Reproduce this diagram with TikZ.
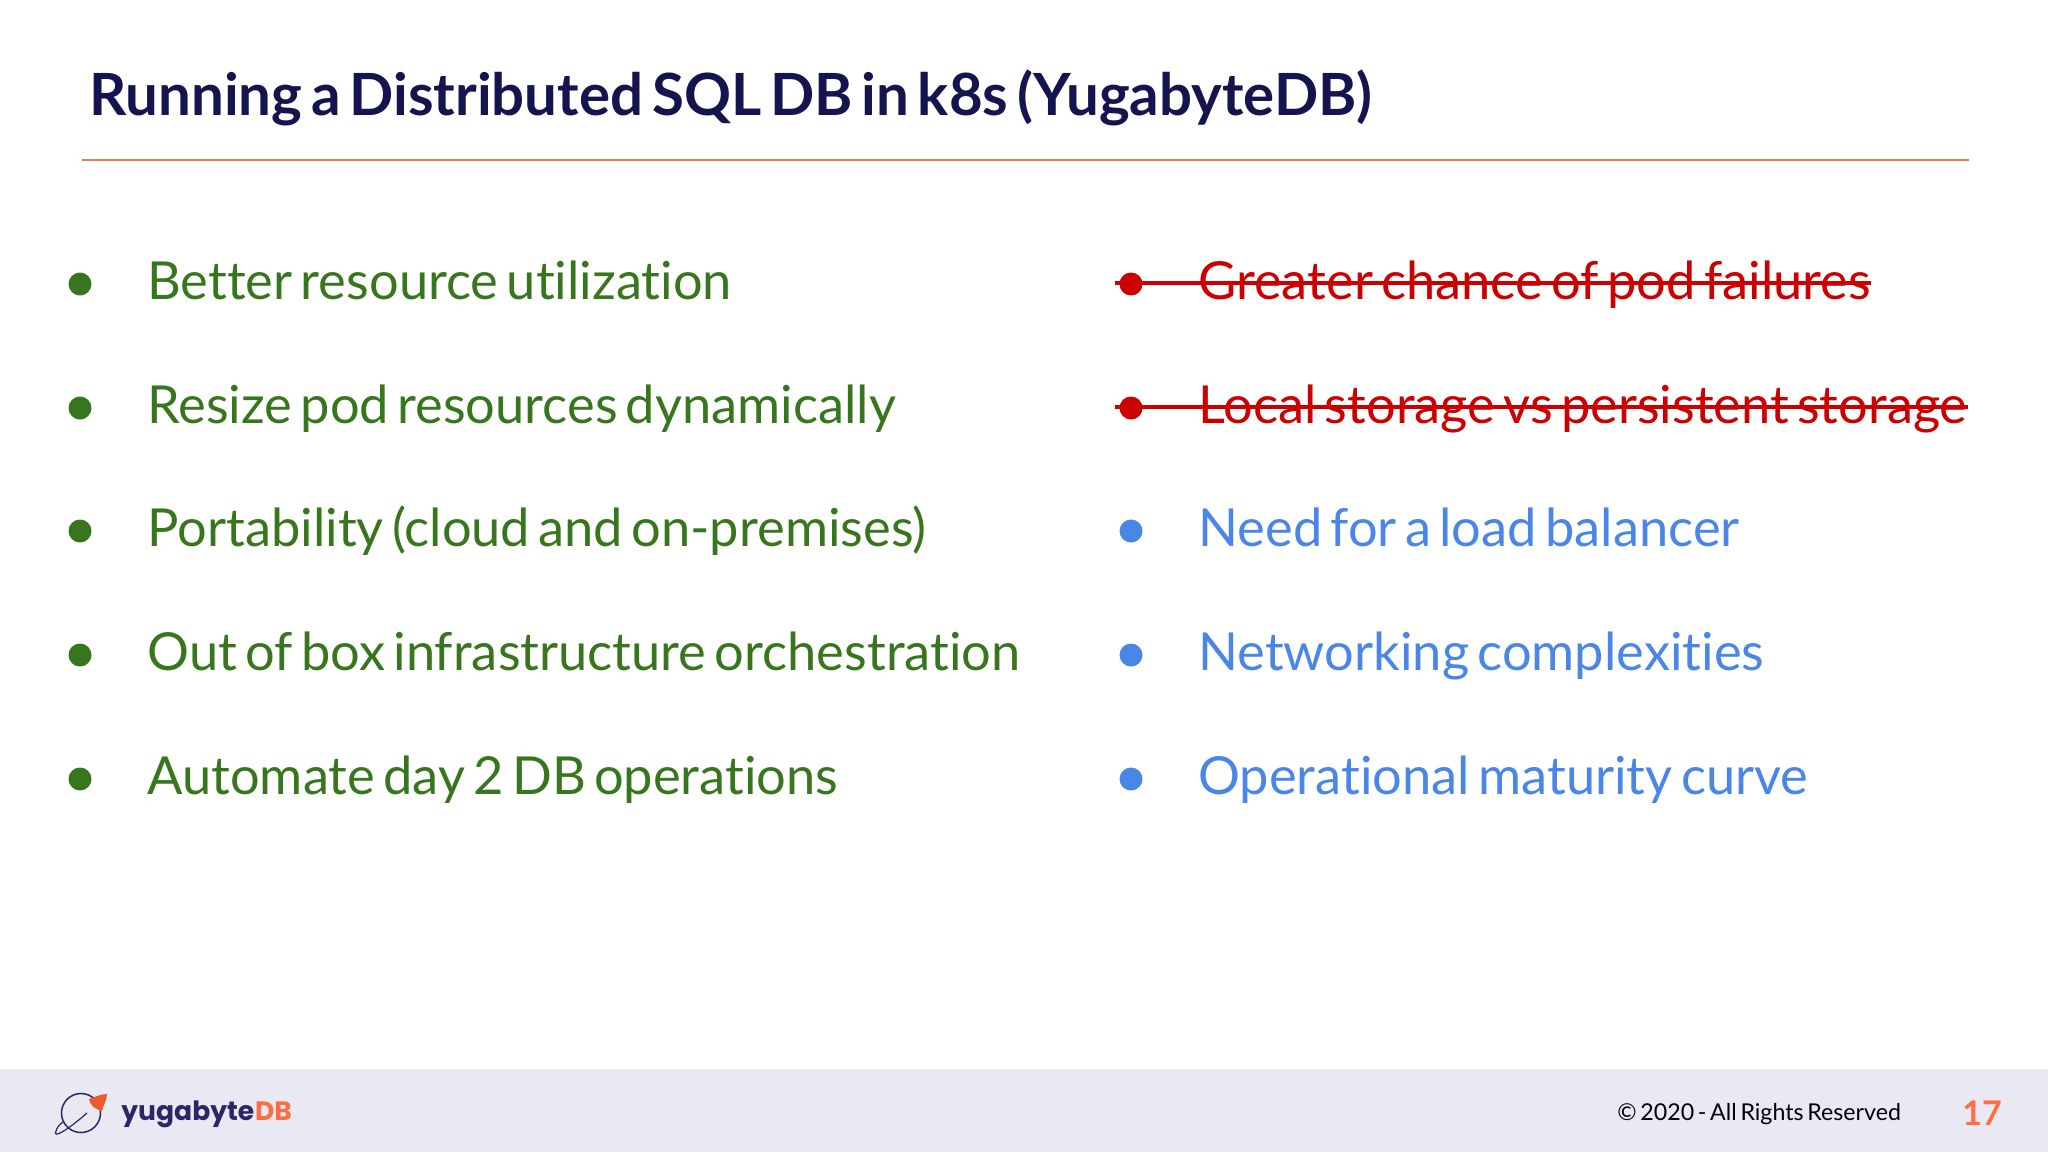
\documentclass[tikz,border=0pt]{standalone}
\usepackage{fontspec}
\setmainfont[WordSpace=0.62,Ligatures=NoCommon]{Lato}
\newfontfamily\logofont{Poppins}
\definecolor{navy}{HTML}{14144F}
\definecolor{rulec}{HTML}{EE7A50}
\definecolor{pro}{HTML}{38761D}
\definecolor{con}{HTML}{CC0000}
\definecolor{neutral}{HTML}{4A86E8}
\definecolor{foot}{HTML}{E9E9F3}
\definecolor{logonavy}{HTML}{2B2766}
\definecolor{logoor}{HTML}{FF6E42}
\definecolor{rocket}{HTML}{EE5A2F}
\tikzset{
 x=0.5pt,y=-0.5pt,
 item/.style={anchor=base west,inner sep=0pt,font=\fontsize{26.2}{30}\selectfont},
 bul/.style={circle,fill,inner sep=0pt,minimum size=11.5pt},
 strike/.style={con,line width=2pt}
}
\begin{document}
\begin{tikzpicture}
\useasboundingbox (0,0) rectangle (2048,1152);
\fill[white] (0,0) rectangle (2048,1152);
\fill[foot] (0,1069) rectangle (2048,1152);
\node[anchor=base west,inner sep=0pt,text=navy,font=\fontsize{29.1}{34}\selectfont\bfseries] (title) at (89,115) {Running a Distributed SQL DB in k8s (YugabyteDB)};
\coordinate (rl) at (82,159.5);
\coordinate (rr) at (1969,159.5);
\draw[rulec,line width=1pt] (rl) -- (rr);
% left
\foreach \n/\y/\t in {a/299/Better resource utilization,b/423/Resize pod resources dynamically,c/546/Portability (cloud and on-premises),d/670/Out of box infrastructure orchestration,e/794/Automate day 2 DB operations}{
  \node[bul,pro] (lb\n) at (80,\y-15) {};
  \node[item,text=pro] (lt\n) at (147,\y) {\t};
}
% right
\foreach \n/\y/\t in {c/546/Need for a load balancer,d/670/Networking complexities,e/794/Operational maturity curve}{
  \node[bul,neutral] (rb\n) at (1131,\y-15) {};
  \node[item,text=neutral] (rt\n) at (1198,\y) {\t};
}
\foreach \n/\y/\t in {a/299/Greater chance of pod failures,b/423/Local storage vs persistent storage}{
  \node[bul,con] (rb\n) at (1131,\y-15) {};
  \node[item,text=con] (rt\n) at (1198,\y) {\t};
  \coordinate (s\n) at (1115,\y-16);
  \draw[strike] (s\n) -- (s\n -| rt\n.east);
}
% logo
\draw[logonavy,line width=0.75pt] (81,1113) circle (19.5);
\draw[logonavy,line width=0.6pt] (87,1113) .. controls (70,1128) and (52,1140) .. (56,1131)
  .. controls (57,1127) and (60,1124) .. (63,1122);
\fill[rocket] (89,1099) .. controls (96,1097) and (100,1094) .. (107,1094)
  .. controls (107,1100) and (103,1106) .. (102,1111)
  .. controls (101,1112) and (100,1110) .. (99,1110) .. controls (94,1108) and (90,1105) .. (89,1099) -- cycle;
\node[anchor=base west,inner sep=0pt,text=logonavy,font=\logofont\fontsize{13.3}{16}\selectfont\bfseries] (logo) at (121,1120) {yugabyte};
\node[anchor=base west,inner sep=0pt,text=logoor,font=\logofont\fontsize{13.3}{16}\selectfont\bfseries] (logodb) at (logo.base east) {DB};
% footer
\node[anchor=base west,inner sep=0pt,text=black!90!navy,font=\fontsize{11.6}{14}\selectfont] (copy) at (1617,1120.5) {© 2020 - All Rights Reserved};
\node[anchor=base west,inner sep=0pt,text=logoor,font=\fontsize{17}{20}\selectfont\bfseries] (page) at (1962,1125) {17};
\end{tikzpicture}
\end{document}
